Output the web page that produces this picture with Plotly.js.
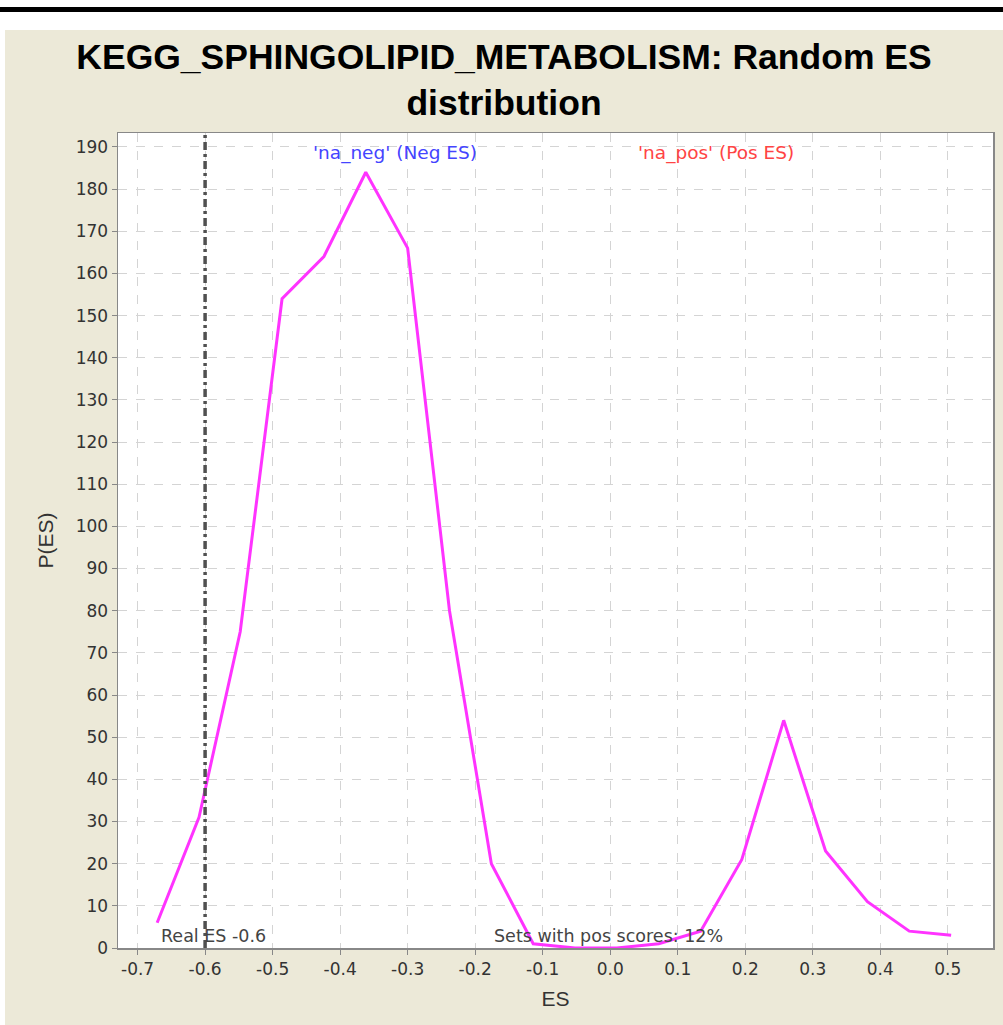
<!DOCTYPE html>
<html><head><meta charset="utf-8">
<script src="https://cdn.plot.ly/plotly-3.0.1.min.js"></script>
<style>
html,body{margin:0;padding:0;background:#fff;width:1003px;height:1025px;overflow:hidden;}
#bar{position:absolute;left:0;top:7px;width:1003px;height:5px;background:#000;}
#chart{position:absolute;left:5px;top:30px;width:998px;height:995px;}
</style></head>
<body>
<div id="bar"></div>
<div id="chart"></div>
<script>
const esBins = [-0.671,-0.609,-0.548,-0.486,-0.424,-0.362,-0.300,-0.238,-0.176,-0.114,-0.052,0.010,0.072,0.134,0.195,0.257,0.319,0.381,0.443,0.505];
const pES = [6,31,75,154,164,184,166,80,20,1,0,0,1,4,21,54,23,11,4,3];
const realES = -0.6;
const xTicks = [-0.7,-0.6,-0.5,-0.4,-0.3,-0.2,-0.1,0.0,0.1,0.2,0.3,0.4,0.5];
const yTicks = [0,10,20,30,40,50,60,70,80,90,100,110,120,130,140,150,160,170,180,190];

const traces = [
  {x: esBins, y: pES, mode:'lines', line:{color:'#ff33ff', width:3}, hoverinfo:'none'},
  {x:[realES, realES], y:[0, 193.3], mode:'lines', line:{color:'#505050', width:3.5, dash:'8px,4px,3px,4px'}, hoverinfo:'none'}
];
const f = 'DejaVu Sans, sans-serif';
const fa = 'Liberation Sans, Arial, sans-serif';
const layout = {
  width: 998, height: 995,
  paper_bgcolor:'#ece9d8', plot_bgcolor:'#ffffff',
  showlegend:false,
  margin:{l:113, r:10, t:103, b:77},
  title:{text:'<b>KEGG_SPHINGOLIPID_METABOLISM: Random ES<br>distribution</b>', x:0.5, xanchor:'center', y:0.961, yanchor:'top',
         font:{family:fa, size:35.5, color:'#000'}},
  xaxis:{range:[-0.729,0.567], tickvals:xTicks, ticktext:xTicks.map(v=>v.toFixed(1)),
         showgrid:true, gridcolor:'#d4d4d4', griddash:'dash', gridwidth:1, zeroline:false,
         showline:true, linecolor:'#888', mirror:true, linewidth:1.5,
         ticks:'outside', ticklen:5, tickcolor:'#888',
         tickfont:{family:f, size:17, color:'#333'},
         title:{text:'ES', font:{family:fa, size:21, color:'#333'}, standoff:13}},
  yaxis:{range:[0,193.3], tickvals:yTicks, showgrid:true, gridcolor:'#d4d4d4', griddash:'dash', gridwidth:1, zeroline:false,
         showline:true, linecolor:'#888', mirror:true, linewidth:1.5,
         ticks:'outside', ticklen:5, tickcolor:'#888',
         tickfont:{family:f, size:17, color:'#333'},
         title:{text:'P(ES)', font:{family:fa, size:21, color:'#333'}, standoff:16}},
  annotations:[
    {x:-0.318, y:188.5, xref:'x', yref:'y', text:"'na_neg' (Neg ES)", showarrow:false, xanchor:'center', yanchor:'middle',
     font:{family:f, size:18.5, color:'#4444ff'}},
    {x:0.156, y:188.5, xref:'x', yref:'y', text:"'na_pos' (Pos ES)", showarrow:false, xanchor:'center', yanchor:'middle',
     font:{family:f, size:18.5, color:'#ff4444'}},
    {x:-0.669, y:0, xref:'x', yref:'y', text:'Real ES -0.6', showarrow:false, xanchor:'left', yanchor:'bottom',
     font:{family:f, size:17.5, color:'#444'}},
    {x:-0.175, y:0, xref:'x', yref:'y', text:'Sets with pos scores: 12%', showarrow:false, xanchor:'left', yanchor:'bottom',
     font:{family:f, size:17.5, color:'#444'}}
  ]
};
Plotly.newPlot('chart', traces, layout, {displayModeBar:false, staticPlot:true});
</script>
</body></html>
